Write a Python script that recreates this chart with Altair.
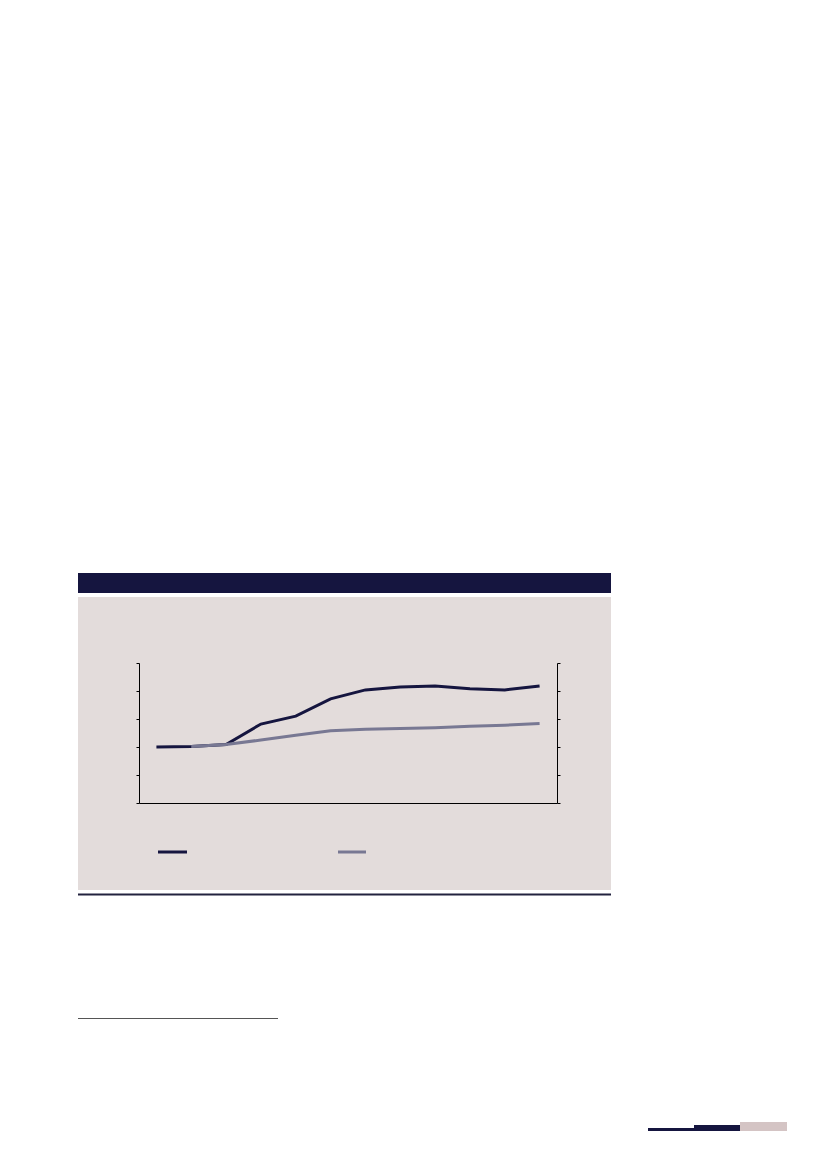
import altair as alt
import pandas as pd

# ---- data ----
periods = ["1", "2", "3", "4", "5", "6", "7", "8", "9", "10", "11", "12"]
series_dark = [100, 101, 104.5, 141, 155, 186, 202, 207, 209, 204, 202, 209]
series_grey = [None, 101, 104.5, 112.5, 121, 129, 131.5, 133, 134.5, 137, 139, 142]
y_ticks = [0, 50, 100, 150, 200, 250]

df = pd.DataFrame({"period": periods, "dark": series_dark, "grey": series_grey})

DARK = "#15153f"
GREY = "#787893"
BOX = "#e3dcdb"
PINK = "#d4c4c4"

# plot area origin on the page
OX, OY = 139, 663
W, H = 418, 140


def rect(x1, y1, x2, y2, color):
    return alt.Chart(alt.Data(values=[{}])).mark_rect(color=color).encode(
        x=alt.value(x1 - OX), x2=alt.value(x2 - OX),
        y=alt.value(y1 - OY), y2=alt.value(y2 - OY))


def hrule(x1, x2, y, color, width):
    return alt.Chart(alt.Data(values=[{}])).mark_rule(
        color=color, strokeWidth=width).encode(
        x=alt.value(x1 - OX), x2=alt.value(x2 - OX), y=alt.value(y - OY))


header = rect(78, 573, 611, 593, DARK)
box = rect(78, 597, 611, 890, BOX)
bottom_rule = hrule(78, 611, 894.5, "#22223f", 2)
footnote_rule = hrule(78, 278, 1018.5, "#555555", 1)
bar1 = rect(648, 1128, 694, 1131, DARK)
bar2 = rect(694, 1125, 740, 1131, DARK)
bar3 = rect(740, 1122, 787, 1131, PINK)
leg_dark = hrule(158, 187, 852, DARK, 3)
leg_grey = hrule(338, 366, 852, GREY, 3)

xenc = alt.X("period:O", sort=periods,
             scale=alt.Scale(type="point", padding=0.5),
             axis=alt.Axis(labels=False, ticks=False, title=None,
                           domainColor="black", domainWidth=1, zindex=1))

yscale = alt.Scale(domain=[0, 250], nice=False)

line_dark = alt.Chart(df).mark_line(color=DARK, strokeWidth=3).encode(
    x=xenc,
    y=alt.Y("dark:Q", scale=yscale,
            axis=alt.Axis(values=y_ticks, labels=False, title=None, grid=False,
                          tickSize=3, tickColor="black", domainColor="black",
                          orient="left", zindex=1)))

line_grey = alt.Chart(df).mark_line(color=GREY, strokeWidth=3).encode(
    x=xenc,
    y=alt.Y("grey:Q", scale=yscale,
            axis=alt.Axis(values=y_ticks, labels=False, title=None, grid=False,
                          tickSize=3, tickColor="black", domainColor="black",
                          orient="right", zindex=1)))

chart = alt.layer(
    header, box, bottom_rule, footnote_rule, bar1, bar2, bar3,
    leg_dark, leg_grey, line_dark, line_grey
).resolve_scale(y="independent").properties(
    width=W, height=H,
    autosize=alt.AutoSizeParams(type="none"),
    padding={"left": OX - 8, "top": OY - 8, "right": 250, "bottom": 340},
    background="white",
).configure_view(strokeWidth=0)

chart.save("out.html", embed_options={"renderer": "svg", "actions": False})
